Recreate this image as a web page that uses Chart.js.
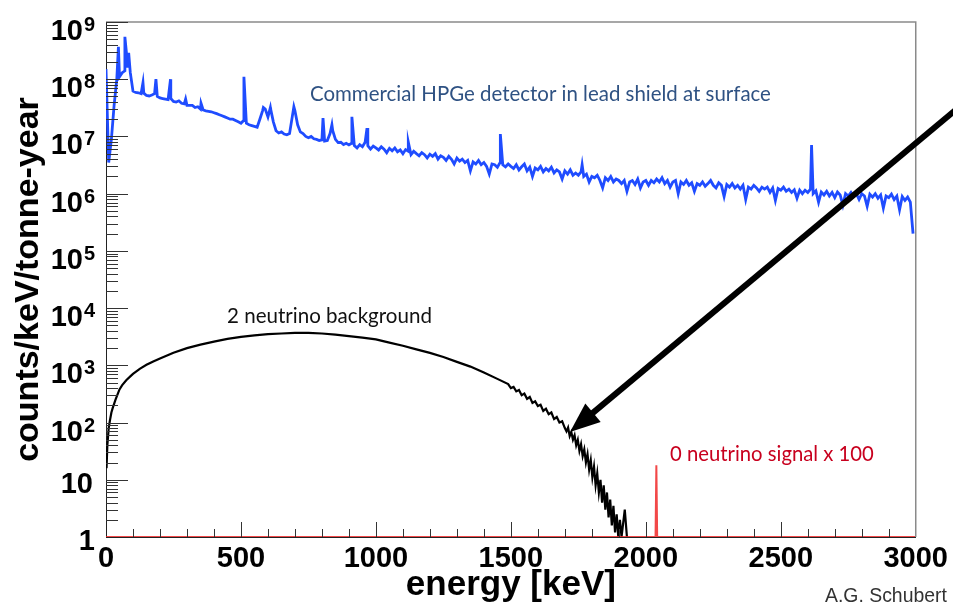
<!DOCTYPE html>
<html>
<head>
<meta charset="utf-8">
<script src="https://cdn.jsdelivr.net/npm/chart.js@4.4.1/dist/chart.umd.min.js"></script>
<style>
    body { margin: 0; background: #fff; }
    #grafico { display: block; }
</style>
</head>
<body>
<canvas id="grafico" width="953" height="608"></canvas>
<script>
// Espectro HPGe (bins de 10 keV, começando em 0 keV)
const hpgeBinWidth = 10
const hpgeCounts = [
    1.5e8, 3.5e6, 9.0e6, 3.5e7, 1.0e8, 1.1e8, 1.3e8, 1.4e8, 1.6e8, 1.3e8,
    6.2e7, 5.9e7, 5.8e7, 5.6e7, 5.7e7, 5.2e7, 5.1e7, 5.3e7, 5.6e7, 5.0e7,
    4.7e7, 4.6e7, 4.5e7, 4.4e7, 4.6e7, 4.1e7, 4.0e7, 4.2e7, 3.8e7, 3.7e7,
    3.5e7, 3.5e7, 3.5e7, 3.2e7, 3.3e7, 3.0e7, 2.9e7, 2.8e7, 2.75e7, 2.7e7,
    2.6e7, 2.5e7, 2.4e7, 2.3e7, 2.2e7, 2.1e7, 2.0e7, 2.0e7, 1.9e7, 1.8e7,
    1.7e7, 1.9e7, 1.7e7, 1.6e7, 1.55e7, 1.5e7, 1.45e7, 2.0e7, 2.8e7, 3.0e7,
    2.2e7, 3.0e7, 1.8e7, 1.26e7, 1.15e7, 1.2e7, 1.1e7, 1.07e7, 1.12e7, 2.2e7,
    2.8e7, 1.6e7, 1.2e7, 1.12e7, 1.0e7, 9.5e6, 1.0e7, 9.1e6, 8.9e6, 8.5e6,
    8.7e6, 8.3e6, 8.5e6, 1.12e7, 1.26e7, 8.9e6, 7.8e6, 7.9e6, 7.2e6, 7.6e6,
    7.1e6, 7.6e6, 6.9e6, 6.3e6, 7.2e6, 6.6e6, 7.9e6, 6.9e6, 6.0e6, 6.8e6,
    6.3e6, 5.8e6, 6.6e6, 6.0e6, 5.2e6, 6.2e6, 5.6e6, 6.3e6, 5.4e6, 5.8e6,
    5.0e6, 5.9e6, 5.5e6, 4.8e6, 5.5e6, 5.0e6, 4.6e6, 5.2e6, 4.8e6, 4.2e6,
    4.9e6, 4.5e6, 5.0e6, 4.0e6, 4.6e6, 4.3e6, 3.8e6, 4.5e6, 4.0e6, 3.3e6,
    4.2e6, 3.7e6, 4.0e6, 3.5e6, 3.8e6, 2.5e6, 3.6e6, 3.3e6, 3.8e6, 3.2e6,
    3.5e6, 3.0e6, 2.2e6, 3.3e6, 3.2e6, 2.9e6, 3.5e6, 3.2e6, 2.95e6, 3.3e6,
    3.0e6, 2.75e6, 3.2e6, 2.6e6, 2.95e6, 3.3e6, 2.5e6, 2.9e6, 2.0e6, 2.8e6,
    2.6e6, 3.0e6, 2.4e6, 2.75e6, 2.5e6, 2.9e6, 2.3e6, 2.6e6, 2.4e6, 1.8e6,
    2.5e6, 2.2e6, 2.6e6, 2.1e6, 2.3e6, 2.1e6, 2.4e6, 2.0e6, 2.2e6, 1.6e6,
    2.0e6, 1.9e6, 2.1e6, 1.7e6, 1.26e6, 1.9e6, 1.7e6, 2.0e6, 1.6e6, 1.8e6,
    1.7e6, 1.5e6, 1.7e6, 1.1e6, 1.6e6, 1.7e6, 1.45e6, 1.8e6, 1.26e6, 1.6e6,
    1.7e6, 1.4e6, 1.7e6, 1.55e6, 1.8e6, 1.6e6, 1.9e6, 1.5e6, 1.7e6, 1.3e6,
    1.6e6, 1.7e6, 1.0e6, 1.6e6, 1.45e6, 1.7e6, 1.4e6, 1.55e6, 1.1e6, 1.5e6,
    1.4e6, 1.6e6, 1.35e6, 1.5e6, 1.7e6, 1.4e6, 1.26e6, 1.55e6, 1.4e6, 8.9e5,
    1.45e6, 1.3e6, 1.5e6, 1.26e6, 1.4e6, 1.2e6, 1.4e6, 7.9e5, 1.3e6, 1.2e6,
    1.4e6, 1.26e6, 1.1e6, 1.3e6, 1.2e6, 1.3e6, 1.05e6, 1.26e6, 7.6e5, 1.23e6,
    1.15e6, 1.3e6, 1.1e6, 1.2e6, 1.05e6, 1.17e6, 8.3e5, 1.15e6, 1.0e6, 1.15e6,
    1.05e6, 1.2e6, 1.0e6, 1.12e6, 7.1e5, 1.07e6, 9.5e5, 1.1e6, 9.1e5, 1.05e6,
    8.5e5, 1.07e6, 9.5e5, 6.3e5, 1.0e6, 9.1e5, 1.05e6, 8.9e5, 1.0e6, 7.9e5,
    1.0e6, 9.1e5, 6.0e5, 9.8e5, 8.7e5, 1.0e6, 8.3e5, 9.5e5, 5.6e5, 9.1e5,
    8.5e5, 9.8e5, 7.9e5, 9.1e5, 5.2e5, 8.9e5, 7.6e5, 8.7e5, 7.1e5, 2.0e5
]

// Linhas gama (picos estreitos)
const peakEnergy = [46, 70, 77, 84, 137, 185, 239, 295, 352, 511, 583, 609, 696, 804, 837, 911, 967, 1120, 1461, 1764, 2614]
const peakCounts = [3.7e8, 5.5e8, 2.5e8, 2.9e8, 8.7e7, 1.0e8, 1.0e8, 4.5e7, 3.8e7, 1.1e8, 3.2e7, 3.2e7, 3.3e7, 2.1e7, 1.6e7, 2.2e7, 1.4e7, 8.0e6, 1.1e7, 3.2e6, 7.1e6]

// Fundo 2 neutrinos
const bbEnergy = [2, 5, 10, 15, 20, 25, 35, 50, 60, 75, 90, 100, 125, 150, 175,
    200, 250, 300, 350, 400, 450, 500, 550, 600, 650, 700, 750, 800, 850, 900, 950,
    1000, 1050, 1100, 1150, 1200, 1250, 1300, 1350, 1400, 1450,
    1490, 1500, 1510, 1520, 1530, 1540, 1550, 1560, 1570, 1580, 1590, 1600,
    1610, 1620, 1630, 1640, 1650, 1660, 1670, 1680, 1690, 1700,
    1706, 1712, 1718, 1724, 1730, 1736, 1742, 1748, 1754, 1760, 1766, 1772, 1778, 1784, 1790,
    1796, 1802, 1808, 1814, 1820, 1826, 1832, 1838, 1844, 1850, 1856, 1862, 1868, 1874, 1880,
    1886, 1892, 1898, 1904, 1910, 1922, 1930]
const bbCounts = [16, 40, 80, 112, 150, 180, 250, 380, 450, 550, 640, 710, 870, 1020, 1170,
    1320, 1660, 2000, 2300, 2600, 2900, 3150, 3350, 3500, 3600, 3700, 3700, 3600, 3450, 3250, 3050,
    2850, 2500, 2200, 1900, 1650, 1400, 1150, 950, 750, 580,
    470, 400, 420, 350, 370, 300, 320, 260, 280, 220, 235, 195,
    205, 160, 175, 140, 150, 115, 125, 100, 105, 80,
    70, 82, 58, 68, 50, 60, 40, 50, 32, 42, 26, 34, 20, 28, 15,
    22, 11, 17, 8, 13, 6, 10, 4, 8, 3, 6, 2.2, 4.5, 1.6, 3.5,
    1.2, 2.5, 1, 2, 1, 3, 1]

// Sinal 0 neutrinos x 100
const signalEnergy = [0, 2036, 2039, 2042, 3000]
const signalCounts = [1, 1, 18, 1, 1]

// Eixos
const yTickValues = [1, 10, 1e2, 1e3, 1e4, 1e5, 1e6, 1e7, 1e8, 1e9]
const yTickExponents = [null, null, 2, 3, 4, 5, 6, 7, 8, 9]

/* ------------------------------------ */

const pontosHpge = []
hpgeCounts.forEach((c, i) => pontosHpge.push({ x: i * hpgeBinWidth, y: c }))
peakEnergy.forEach((e, i) => pontosHpge.push({ x: e, y: peakCounts[i] }))
pontosHpge.sort((a, b) => a.x - b.x)

const pontos2nu = bbEnergy.map((e, i) => ({ x: e, y: bbCounts[i] }))
const pontos0nu = signalEnergy.map((e, i) => ({ x: e, y: signalCounts[i] }))

const fonteEixo = "'Liberation Sans', Arial, Helvetica, sans-serif"
const fonteTexto = "Lato, 'Open Sans', sans-serif"

function fonteAjustada(c, texto, peso, familia, largura) {
    c.font = peso + ' 20px ' + familia
    const w = c.measureText(texto).width
    return peso + ' ' + (20 * largura / w).toFixed(2) + 'px ' + familia
}

// ticks para dentro, moldura, rótulos do eixo y, textos e seta
const desenhoRoot = {
    id: 'desenhoRoot',
    afterDraw(chart) {
        const c = chart.ctx
        const area = chart.chartArea
        const sx = chart.scales.x
        const sy = chart.scales.y
        c.save()

        // moldura cinza (topo e direita)
        c.strokeStyle = '#8a8a8a'
        c.lineWidth = 1.5
        c.beginPath()
        c.moveTo(area.left, area.top)
        c.lineTo(area.right, area.top)
        c.lineTo(area.right, area.bottom)
        c.stroke()

        // ticks eixo x
        c.strokeStyle = '#333'
        c.lineWidth = 1
        c.beginPath()
        for (let v = 100; v < 3000; v += 100) {
            const px = Math.round(sx.getPixelForValue(v)) + 0.5
            const len = v % 500 === 0 ? 15 : 8
            c.moveTo(px, area.bottom)
            c.lineTo(px, area.bottom - len)
        }
        // ticks eixo y
        for (let d = 1; d <= 1e8; d *= 10) {
            for (let m = 1; m <= 9; m++) {
                const v = d * m
                const py = Math.round(sy.getPixelForValue(v)) + 0.5
                const len = m === 1 ? 22 : 12
                if (v === 1) continue
                c.moveTo(area.left, py)
                c.lineTo(area.left + len, py)
            }
        }
        const pyTop = Math.round(sy.getPixelForValue(1e9)) + 0.5
        c.moveTo(area.left, pyTop)
        c.lineTo(area.left + 22, pyTop)
        c.stroke()

        // rótulos eixo y
        c.fillStyle = '#000'
        c.textBaseline = 'alphabetic'
        yTickValues.forEach((v, i) => {
            const py = sy.getPixelForValue(v)
            const exp = yTickExponents[i]
            if (exp === null) {
                c.font = 'bold 29px ' + fonteEixo
                c.textAlign = 'right'
                c.fillText(v === 1 ? '1' : '10', v === 1 ? 95 : 93, py + 13)
            } else {
                c.font = 'bold 29px ' + fonteEixo
                c.textAlign = 'right'
                c.fillText('10', 83, py + 18)
                c.font = 'bold 20px ' + fonteEixo
                c.textAlign = 'left'
                c.fillText(String(exp), 84, py + 9)
            }
        })

        // anotações
        c.textAlign = 'left'
        c.fillStyle = '#2f5283'
        c.font = fonteAjustada(c, 'Commercial HPGe detector in lead shield at surface', 'normal', fonteTexto, 461)
        c.fillText('Commercial HPGe detector in lead shield at surface', 310, 101)

        c.fillStyle = '#111'
        c.font = fonteAjustada(c, '2 neutrino background', 'normal', fonteTexto, 205)
        c.fillText('2 neutrino background', 227, 323)

        c.fillStyle = '#c8001e'
        c.font = fonteAjustada(c, '0 neutrino signal x 100', 'normal', fonteTexto, 204)
        c.fillText('0 neutrino signal x 100', 670, 461)

        c.fillStyle = '#333'
        c.font = fonteAjustada(c, 'A.G. Schubert', 'normal', fonteEixo, 122)
        c.fillText('A.G. Schubert', 825, 602)

        // seta
        const x0 = 953, y0 = 112, x1 = 570, y1 = 432
        const dx = x1 - x0, dy = y1 - y0
        const len = Math.hypot(dx, dy)
        const ux = dx / len, uy = dy / len
        c.strokeStyle = '#000'
        c.fillStyle = '#000'
        c.lineWidth = 6
        c.beginPath()
        c.moveTo(x0 + 5, y0 - 4)
        c.lineTo(x1 - ux * 20, y1 - uy * 20)
        c.stroke()
        c.beginPath()
        c.moveTo(x1, y1)
        c.lineTo(x1 - ux * 30 - uy * 12, y1 - uy * 30 + ux * 12)
        c.lineTo(x1 - ux * 30 + uy * 12, y1 - uy * 30 - ux * 12)
        c.closePath()
        c.fill()

        c.restore()
    }
}

const grafico = new Chart(document.getElementById('grafico').getContext('2d'), {
    type: 'line',
    data: {
        datasets: [
            { label: '0 neutrino signal x 100', data: pontos0nu, borderColor: 'rgba(240, 40, 40, 0.85)', borderWidth: 2, pointRadius: 0, tension: 0 },
            { label: '2 neutrino background', data: pontos2nu, borderColor: '#000', borderWidth: 2.2, pointRadius: 0, tension: 0 },
            { label: 'Commercial HPGe', data: pontosHpge, borderColor: '#1f4cff', borderWidth: 2.8, pointRadius: 0, tension: 0 }
        ]
    },
    options: {
        responsive: false,
        animation: false,
        layout: { padding: { top: 22, right: 37, left: 0, bottom: 0 } },
        plugins: { legend: { display: false }, tooltip: { enabled: false } },
        scales: {
            x: {
                type: 'linear', min: 0, max: 3000,
                ticks: { stepSize: 500, color: '#000', padding: 5, maxRotation: 0, autoSkip: false,
                    callback: v => String(v),
                    font: { family: fonteEixo, size: 29, weight: 'bold' } },
                grid: { drawOnChartArea: false, drawTicks: false },
                border: { color: '#222', width: 1 },
                title: { display: true, text: 'energy [keV]', color: '#000',
                    font: { family: fonteEixo, size: 35, weight: 'bold', lineHeight: 1.2 },
                    padding: { top: 0, bottom: 2 } },
                afterFit(scale) { scale.height = 71 }
            },
            y: {
                type: 'logarithmic', min: 1, max: 1e9,
                ticks: { display: false },
                grid: { drawOnChartArea: false, drawTicks: false },
                border: { color: '#222', width: 1 },
                title: { display: true, text: 'counts/keV/tonne-year', color: '#000',
                    font: { family: fonteEixo, size: 34, weight: 'bold', lineHeight: 1.2 },
                    padding: { top: 8, bottom: 0 } },
                afterFit(scale) { scale.width = 106 }
            }
        }
    },
    plugins: [desenhoRoot]
})
</script>
</body>
</html>
